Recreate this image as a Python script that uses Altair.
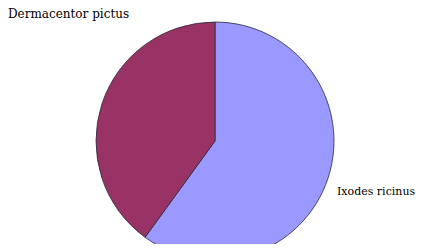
import altair as alt
import pandas as pd

species = ["Ixodes ricinus", "Dermacentor pictus"]
shares = [60, 40]
colors = ["#9999FF", "#993366"]
order = [1, 2]

df = pd.DataFrame({"species": species, "share": shares, "order": order})

pie = alt.Chart(df).mark_arc(outerRadius=119, stroke="#2a2a3a", strokeWidth=0.8).encode(
    theta=alt.Theta("share:Q", stack=True),
    order=alt.Order("order:Q"),
    color=alt.Color("species:N", scale=alt.Scale(domain=species, range=colors), legend=None),
    x=alt.value(207),
    y=alt.value(133),
)

lab_df = pd.DataFrame({"label": species, "lx": [329, 0], "ly": [184, 5.5], "fs": [11, 12]})
labels = alt.Chart(lab_df).mark_text(
    font="DejaVu Serif", align="left", baseline="middle", color="#000000"
).encode(
    text="label:N",
    x=alt.X("lx:Q", scale=None),
    y=alt.Y("ly:Q", scale=None),
    size=alt.Size("fs:Q", scale=None, legend=None),
)

chart = alt.layer(pie, labels).properties(
    width=415, height=236, padding=0,
    autosize=alt.AutoSizeParams(type="none"),
).configure_view(stroke=None)

chart.save("out.html", embed_options={"renderer": "svg", "actions": False})
